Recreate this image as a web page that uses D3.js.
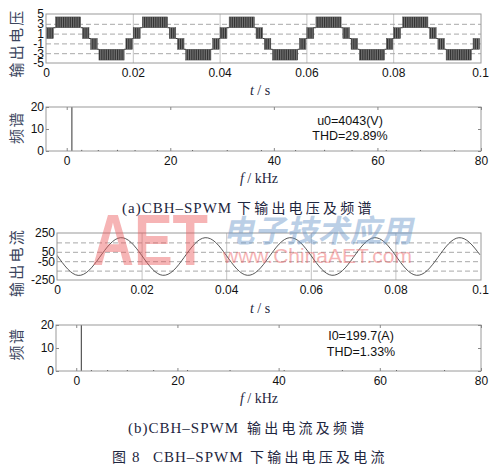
<!DOCTYPE html>
<html>
<head>
<meta charset="utf-8">
<script src="https://cdn.jsdelivr.net/npm/d3@7/dist/d3.min.js"></script>
<style>
body { margin: 0; background: #fff; }
svg { display: block; }
</style>
</head>
<body>
<script>
// data
var timeTicks = [0, 0.02, 0.04, 0.06, 0.08, 0.1];
var voltTicks = [-5, -3, -1, 1, 3, 5];

// one period of the PWM voltage, read as blocks (s, kV levels)
var periodStarts = [0, 0.02, 0.04, 0.06, 0.08];
var blockStart = [0.0001, 0.0022, 0.0084, 0.0103, 0.0122, 0.0184];
var blockEnd   = [0.0017, 0.0080, 0.0099, 0.0118, 0.0180, 0.0199];
var blockLow   = [0, 2.2, 0, -2.2, -4.4, -2.2];
var blockHigh  = [2.2, 4.4, 2.2, 0, -2.2, 0];

var freqTicks = [0, 20, 40, 60, 80];
var specTicks = [0, 10, 20];
var specFreqV = [1, 2.9, 6.1, 9.8, 13.2, 17.5, 24.3, 31.0, 37.6, 44.2, 49.8, 55.1, 61.7, 68.3, 74.9];
var specMagV  = [100, 0.5, 0.4, 0.5, 0.3, 0.4, 0.3, 0.4, 0.3, 0.4, 0.5, 0.3, 0.4, 0.3, 0.3];
var specFreqI = [1, 3.0, 6.2, 10.1, 15.3, 22.0, 30.4, 41.1, 52.6, 63.3, 72.8];
var specMagI  = [100, 0.3, 0.3, 0.4, 0.2, 0.3, 0.2, 0.2, 0.2, 0.2, 0.2];
var voltNote = ['u0=4043(V)', 'THD=29.89%'];
var curNote  = ['I0=199.7(A)', 'THD=1.33%'];

var curTime = [0, 0.0025, 0.005, 0.0075, 0.01, 0.0125, 0.015, 0.0175,
	0.02, 0.0225, 0.025, 0.0275, 0.03, 0.0325, 0.035, 0.0375,
	0.04, 0.0425, 0.045, 0.0475, 0.05, 0.0525, 0.055, 0.0575,
	0.06, 0.0625, 0.065, 0.0675, 0.07, 0.0725, 0.075, 0.0775,
	0.08, 0.0825, 0.085, 0.0875, 0.09, 0.0925, 0.095, 0.0975, 0.1];
var curValue = [13, -132, -201, -150, -13, 132, 200, 150,
	13, -132, -200, -150, -13, 132, 200, 150,
	13, -132, -200, -150, -13, 132, 200, 150,
	13, -132, -200, -150, -13, 132, 200, 150,
	13, -132, -200, -150, -13, 132, 200, 150, 18];
var curTicks  = [-250, -150, -50, 50, 150, 250];
var curLabels = [-250, -50, 50, 250];

var sansFont = '"Liberation Sans", Arial, sans-serif';
var serifFont = '"Liberation Serif", "Times New Roman", serif';
var cjkFont = '"Noto Sans CJK SC", sans-serif';

var svg = d3.select('body').append('svg')
	.attr('width', 501)
	.attr('height', 470);

var defs = svg.append('defs');
var pat = defs.append('pattern')
	.attr('id', 'pwm')
	.attr('patternUnits', 'userSpaceOnUse')
	.attr('width', 1.8)
	.attr('height', 6);
pat.append('rect').attr('width', 1.8).attr('height', 6).attr('fill', '#8a8a8a');
pat.append('rect').attr('width', 1.1).attr('height', 6).attr('fill', '#303030');

function styleAxis (g) {
	g.select('.domain').remove();
	g.attr('font-family', sansFont).attr('font-size', 12);
	g.selectAll('.tick text').attr('fill', '#111');
	g.selectAll('.tick line').attr('stroke', '#888');
}

function makePanel (box, id) {
	defs.append('clipPath').attr('id', id)
		.append('rect')
		.attr('x', box.left).attr('y', box.top)
		.attr('width', box.right - box.left)
		.attr('height', box.bottom - box.top);
	return svg.append('g');
}

function drawBox (g, box) {
	g.append('rect')
		.attr('x', box.left).attr('y', box.top)
		.attr('width', box.right - box.left)
		.attr('height', box.bottom - box.top)
		.attr('fill', 'none')
		.attr('stroke', '#9a9a9a')
		.attr('stroke-width', 1);
}

function timeGrid (g, x, y, box, yTicks) {
	g.append('g')
		.attr('transform', 'translate(0,' + box.bottom + ')')
		.call(d3.axisBottom(x).tickValues(timeTicks.slice(1, -1)).tickSize(-(box.bottom - box.top)).tickFormat(''))
		.call(function (s) {
			s.select('.domain').remove();
			s.selectAll('line').attr('stroke', '#c4c4c4');
		});
	g.append('g')
		.attr('transform', 'translate(' + box.left + ',0)')
		.call(d3.axisLeft(y).tickValues(yTicks.slice(1, -1)).tickSize(-(box.right - box.left)).tickFormat(''))
		.call(function (s) {
			s.select('.domain').remove();
			s.selectAll('line').attr('stroke', '#a8a8a8').attr('stroke-dasharray', '5,3');
		});
}

function yLabel (text, cx, cy, size, spacing) {
	svg.append('text')
		.attr('transform', 'translate(' + cx + ',' + cy + ') rotate(-90)')
		.attr('text-anchor', 'middle')
		.attr('font-family', cjkFont)
		.attr('font-size', size)
		.attr('letter-spacing', spacing)
		.attr('fill', '#3c465e')
		.text(text);
}

function unitLabel (v, unit, cx, baseline) {
	var t = svg.append('text')
		.attr('x', cx).attr('y', baseline)
		.attr('text-anchor', 'middle')
		.attr('font-family', serifFont)
		.attr('font-size', 14)
		.attr('fill', '#1e2640');
	t.append('tspan').attr('font-style', 'italic').text(v);
	t.append('tspan').text(' / ' + unit);
}

// ---- panel 1: voltage
var b1 = {left: 46, right: 481, top: 14, bottom: 63};
var g1 = makePanel(b1, 'clip1');
var x1 = d3.scaleLinear().domain([0, 0.1]).range([b1.left, b1.right - 1]);
var y1 = d3.scaleLinear().domain([-5, 5]).range([b1.bottom, b1.top]);
timeGrid(g1, x1, y1, b1, voltTicks);

var blocks = [];
periodStarts.forEach(function (p) {
	blockStart.forEach(function (s, i) {
		blocks.push({t0: p + s, t1: p + blockEnd[i], lo: blockLow[i], hi: blockHigh[i]});
	});
});
var gaps = [];
for (var i = 0; i < blocks.length - 1; i++) {
	var a = blocks[i], b = blocks[i + 1];
	var lvl = (a.hi === b.lo || a.hi === b.hi) ? a.hi : a.lo;
	gaps.push({t0: a.t1, t1: b.t0, lvl: lvl});
}
var wave = g1.append('g').attr('clip-path', 'url(#clip1)');
wave.selectAll('line.gap')
	.data(gaps)
	.enter().append('line')
	.attr('class', 'gap')
	.attr('x1', function (d) { return x1(d.t0); })
	.attr('x2', function (d) { return x1(d.t1); })
	.attr('y1', function (d) { return y1(d.lvl); })
	.attr('y2', function (d) { return y1(d.lvl); })
	.attr('stroke', '#333')
	.attr('stroke-width', 1);
wave.selectAll('rect.blk')
	.data(blocks)
	.enter().append('rect')
	.attr('class', 'blk')
	.attr('x', function (d) { return x1(d.t0); })
	.attr('width', function (d) { return x1(d.t1) - x1(d.t0); })
	.attr('y', function (d) { return y1(d.hi); })
	.attr('height', function (d) { return y1(d.lo) - y1(d.hi); })
	.attr('fill', 'url(#pwm)')
	.attr('stroke', '#444')
	.attr('stroke-width', 0.5);
drawBox(g1, b1);
g1.append('g').attr('transform', 'translate(0,' + b1.bottom + ')')
	.call(d3.axisBottom(x1).tickValues(timeTicks).tickSize(0).tickPadding(5.5).tickFormat(String))
	.call(styleAxis);
g1.append('g').attr('transform', 'translate(' + b1.left + ',0)')
	.call(d3.axisLeft(y1).tickValues(voltTicks).tickSize(0).tickPadding(2).tickFormat(String))
	.call(styleAxis);
yLabel('输出电压', 22, 43, 15, 2.3);
unitLabel('t', 's', 260, 95);

// ---- spectrum panels
function spectrum (box, id, freq, mag, note, noteX, noteY) {
	var g = makePanel(box, id);
	var x = d3.scaleLinear().domain([-4, 80]).range([box.left, box.right]);
	var y = d3.scaleLinear().domain([0, 20]).range([box.bottom, box.top]);
	g.append('g').attr('clip-path', 'url(#' + id + ')')
		.selectAll('line')
		.data(freq)
		.enter().append('line')
		.attr('x1', function (d) { return x(d); })
		.attr('x2', function (d) { return x(d); })
		.attr('y1', y(0))
		.attr('y2', function (d, i) { return Math.min(y(mag[i]), y(0) - 1); })
		.attr('stroke', '#333')
		.attr('stroke-width', 1);
	drawBox(g, box);
	g.append('g').attr('transform', 'translate(0,' + box.bottom + ')')
		.call(d3.axisBottom(x).tickValues(freqTicks).tickSize(-3).tickPadding(5.5).tickFormat(String))
		.call(styleAxis);
	g.append('g').attr('transform', 'translate(0,' + box.top + ')')
		.call(d3.axisTop(x).tickValues(freqTicks).tickSize(-3).tickFormat(''))
		.call(styleAxis);
	g.append('g').attr('transform', 'translate(' + box.left + ',0)')
		.call(d3.axisLeft(y).tickValues(specTicks).tickSize(-3).tickPadding(2).tickFormat(String))
		.call(styleAxis);
	g.append('g').attr('transform', 'translate(' + box.right + ',0)')
		.call(d3.axisRight(y).tickValues(specTicks).tickSize(-3).tickFormat(''))
		.call(styleAxis);
	g.selectAll('text.note')
		.data(note)
		.enter().append('text')
		.attr('class', 'note')
		.attr('x', noteX)
		.attr('y', function (d, i) { return noteY[i]; })
		.attr('text-anchor', 'middle')
		.attr('font-family', sansFont)
		.attr('font-size', 12.5)
		.attr('fill', '#111')
		.text(function (d) { return d; });
}

spectrum({left: 46, right: 481, top: 107, bottom: 151}, 'clip2', specFreqV, specMagV, voltNote, 350, [124.5, 140]);
yLabel('频谱', 22, 127.5, 15, 1.6);
unitLabel('f', 'kHz', 259, 183);

// ---- panel 3: current
var b3 = {left: 57, right: 481, top: 233, bottom: 280};
var g3 = makePanel(b3, 'clip3');
var x3 = d3.scaleLinear().domain([0, 0.1]).range([b3.left, b3.right - 1]);
var y3 = d3.scaleLinear().domain([-250, 250]).range([b3.bottom, b3.top]);
timeGrid(g3, x3, y3, b3, curTicks);
var curLine = d3.line()
	.x(function (d, i) { return x3(curTime[i]); })
	.y(function (d) { return y3(d); })
	.curve(d3.curveNatural);
g3.append('path')
	.datum(curValue)
	.attr('clip-path', 'url(#clip3)')
	.attr('d', curLine)
	.attr('fill', 'none')
	.attr('stroke', '#444')
	.attr('stroke-width', 0.9);
drawBox(g3, b3);
g3.append('g').attr('transform', 'translate(0,' + b3.bottom + ')')
	.call(d3.axisBottom(x3).tickValues(timeTicks).tickSize(0).tickPadding(5.5).tickFormat(String))
	.call(styleAxis);
g3.append('g').attr('transform', 'translate(' + b3.left + ',0)')
	.call(d3.axisLeft(y3).tickValues(curLabels).tickSize(0).tickPadding(2).tickFormat(String))
	.call(styleAxis);
yLabel('输出电流', 22, 262.5, 15, 2.3);
unitLabel('t', 's', 260, 313);

spectrum({left: 56, right: 481, top: 325, bottom: 371}, 'clip4', specFreqI, specMagI, curNote, 361, [340, 356]);
yLabel('频谱', 22, 344, 15, 1.6);
unitLabel('f', 'kHz', 259, 403);

// ---- captions
function caption (latin, latinX, cjk, cjkX, baseline, pre) {
	var t = svg.append('text')
		.attr('y', baseline)
		.attr('fill', '#1e2640');
	if (pre) {
		t.append('tspan').attr('x', pre.x).attr('font-family', cjkFont).attr('font-size', 14).text(pre.text);
		t.append('tspan').attr('x', pre.nx).attr('font-family', serifFont).attr('font-size', 15).text(pre.num);
	}
	t.append('tspan').attr('x', latinX).attr('font-family', serifFont).attr('font-size', 15)
		.attr('letter-spacing', 1).text(latin);
	t.append('tspan').attr('x', cjkX).attr('font-family', cjkFont).attr('font-size', 14)
		.attr('letter-spacing', 3.2).text(cjk);
}
caption('(a)CBH\u2013SPWM', 122, '下输出电压及频谱', 237, 213);
caption('(b)CBH\u2013SPWM', 128, '输出电流及频谱', 247, 433);
caption('CBH\u2013SPWM', 153, '下输出电压及电流', 250, 462, {x: 112, text: '图', nx: 132, num: '8'});

// ---- watermark
var wm = svg.append('g').attr('pointer-events', 'none');
wm.append('text')
	.attr('x', 92).attr('y', 265)
	.attr('font-family', sansFont)
	.attr('font-weight', 'bold')
	.attr('font-size', 72)
	.attr('textLength', 116)
	.attr('lengthAdjust', 'spacingAndGlyphs')
	.attr('fill', '#ec5a5c')
	.attr('opacity', 0.45)
	.text('AET');
wm.append('text')
	.attr('transform', 'translate(223,242) skewX(-12)')
	.attr('font-family', cjkFont)
	.attr('font-weight', 'bold')
	.attr('font-size', 31)
	.attr('textLength', 190)
	.attr('lengthAdjust', 'spacingAndGlyphs')
	.attr('fill', '#6a97c9')
	.attr('opacity', 0.45)
	.text('电子技术应用');
wm.append('text')
	.attr('x', 223).attr('y', 263)
	.attr('font-family', sansFont)
	.attr('font-size', 21)
	.attr('textLength', 189)
	.attr('lengthAdjust', 'spacingAndGlyphs')
	.attr('fill', '#ec5a5c')
	.attr('opacity', 0.45)
	.text('www.ChinaAET.com');
</script>
</body>
</html>
